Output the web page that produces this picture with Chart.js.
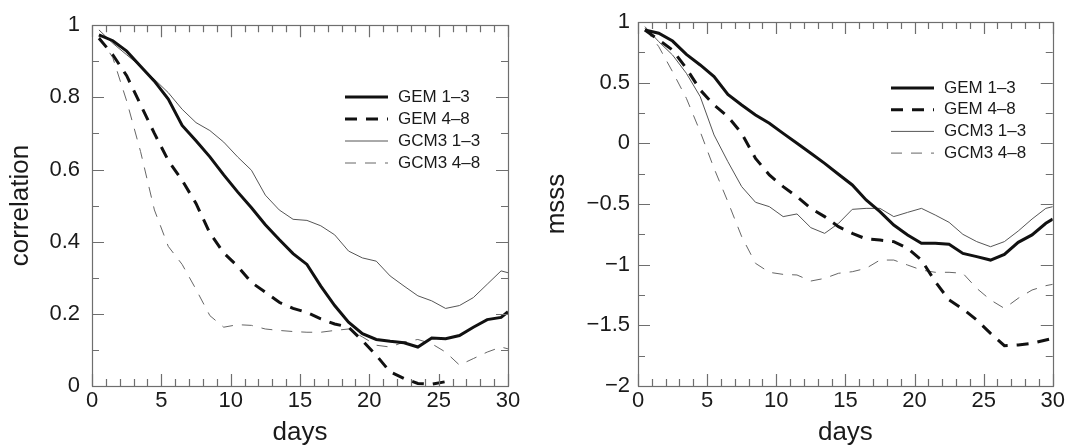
<!DOCTYPE html>
<html>
<head>
<meta charset="utf-8">
<script src="https://cdn.jsdelivr.net/npm/chart.js@4.4.0/dist/chart.umd.min.js"></script>
<style>
  body { margin: 0; background: #fff; }
  #wrap { position: relative; width: 1067px; height: 445px; }
  canvas { position: absolute; top: 0; }
  #corrChart { left: 0; }
  #msssChart { left: 533px; }
</style>
</head>
<body>
<div id="wrap">
  <canvas id="corrChart" width="533" height="445"></canvas>
  <canvas id="msssChart" width="534" height="445"></canvas>
</div>
<script>
// lead time (days) of each point
const days = [0.5, 1.5, 2.5, 3.5, 4.5, 5.5, 6.5, 7.5, 8.5, 9.5, 10.5, 11.5, 12.5, 13.5, 14.5,
  15.5, 16.5, 17.5, 18.5, 19.5, 20.5, 21.5, 22.5, 23.5, 24.5, 25.5, 26.5, 27.5, 28.5, 29.5, 30];

const seriesLabels = ["GEM 1\u20133", "GEM 4\u20138", "GCM3 1\u20133", "GCM3 4\u20138"];

// left panel: correlation
const corrGem13 = [0.973, 0.957, 0.928, 0.886, 0.845, 0.795, 0.722, 0.68, 0.635, 0.585, 0.538, 0.494, 0.447, 0.406, 0.367,
  0.337, 0.277, 0.223, 0.177, 0.145, 0.129, 0.124, 0.12, 0.108, 0.133, 0.131, 0.14, 0.163, 0.184, 0.19, 0.206];
const corrGem48 = [0.964, 0.918, 0.86, 0.78, 0.70, 0.625, 0.57, 0.506, 0.424, 0.369, 0.332, 0.287, 0.26, 0.232, 0.215,
  0.204, 0.186, 0.172, 0.163, 0.126, 0.085, 0.039, 0.021, 0.007, 0.005, 0.012, null, null, null, null, null];
const corrGcm13 = [0.987, 0.95, 0.918, 0.886, 0.85, 0.813, 0.767, 0.73, 0.708, 0.676, 0.635, 0.598, 0.529, 0.488, 0.462,
  0.459, 0.444, 0.419, 0.374, 0.355, 0.346, 0.305, 0.277, 0.25, 0.236, 0.215, 0.223, 0.245, 0.282, 0.319, 0.314];
const corrGcm48 = [0.97, 0.91, 0.79, 0.65, 0.488, 0.387, 0.337, 0.268, 0.195, 0.163, 0.17, 0.168, 0.158, 0.154, 0.151,
  0.149, 0.149, 0.154, 0.158, 0.136, 0.113, 0.108, 0.122, 0.129, 0.117, 0.094, 0.058, 0.076, 0.094, 0.108, 0.103];

// right panel: msss
const msssGem13 = [0.934, 0.907, 0.843, 0.733, 0.646, 0.55, 0.404, 0.316, 0.234, 0.165, 0.082, 0.0, -0.082, -0.165, -0.255,
  -0.343, -0.467, -0.563, -0.673, -0.755, -0.824, -0.824, -0.832, -0.907, -0.934, -0.962, -0.915, -0.816, -0.755, -0.659, -0.624];
const msssGem48 = [0.934, 0.852, 0.769, 0.618, 0.44, 0.316, 0.22, 0.082, -0.124, -0.261, -0.357, -0.44, -0.536, -0.604, -0.687,
  -0.742, -0.788, -0.797, -0.81, -0.865, -0.962, -1.14, -1.291, -1.365, -1.456, -1.566, -1.668, -1.662, -1.648, -1.621, -1.607];
const msssGcm13 = [0.962, 0.838, 0.728, 0.577, 0.385, 0.069, -0.151, -0.357, -0.486, -0.522, -0.604, -0.582, -0.695, -0.742, -0.66,
  -0.544, -0.536, -0.536, -0.604, -0.569, -0.536, -0.591, -0.651, -0.75, -0.81, -0.852, -0.81, -0.723, -0.624, -0.536, -0.522];
const msssGcm48 = [0.948, 0.797, 0.59, 0.371, 0.096, -0.206, -0.481, -0.769, -0.989, -1.063, -1.08, -1.085, -1.135, -1.113, -1.071,
  -1.058, -1.03, -0.962, -0.962, -1.003, -1.044, -1.063, -1.063, -1.071, -1.195, -1.291, -1.36, -1.277, -1.209, -1.173, -1.162];

const FONT = "'Liberation Sans', Arial, Helvetica, sans-serif";

const lineStyles = [
  { borderColor: "#111", borderWidth: 3, borderDash: [] },
  { borderColor: "#111", borderWidth: 3, borderDash: [12, 9] },
  { borderColor: "#555", borderWidth: 1, borderDash: [] },
  { borderColor: "#666", borderWidth: 1, borderDash: [11, 9] }
];

function makeDatasets(lists) {
  return lists.map((vals, i) => ({
    label: seriesLabels[i],
    data: days.map((d, j) => ({ x: d, y: vals[j] })),
    ...lineStyles[i],
    pointRadius: 0,
    tension: 0,
    fill: false
  }));
}

// frame and inward tick marks on all four sides
function frameTicks(t) {
  return {
    id: "frameTicks",
    afterDraw(chart) {
      const { ctx, chartArea: a } = chart;
      const x = chart.scales.x, y = chart.scales.y;
      const isMajor = (v, step) => Math.abs(v / step - Math.round(v / step)) < 1e-6;
      ctx.save();
      ctx.strokeStyle = "#6e6e6e";
      ctx.lineWidth = 1.2;
      ctx.strokeRect(Math.round(a.left) + 0.5, Math.round(a.top) + 0.5, Math.round(a.width), Math.round(a.height));
      const nx = Math.round((t.xMax - t.xMin) / t.xMinor);
      for (let k = 0; k <= nx; k++) {
        const v = t.xMin + k * t.xMinor;
        const px = Math.round(x.getPixelForValue(v)) + 0.5;
        const len = isMajor(v, t.xMajor) ? 12 : 7;
        ctx.beginPath();
        ctx.moveTo(px, a.bottom); ctx.lineTo(px, a.bottom - len);
        ctx.moveTo(px, a.top); ctx.lineTo(px, a.top + len);
        ctx.stroke();
      }
      const ny = Math.round((t.yMax - t.yMin) / t.yMinor);
      for (let k = 0; k <= ny; k++) {
        const v = t.yMin + k * t.yMinor;
        const py = Math.round(y.getPixelForValue(v)) + 0.5;
        const len = isMajor(v, t.yMajor) ? 12 : 7;
        ctx.beginPath();
        ctx.moveTo(a.left, py); ctx.lineTo(a.left + len, py);
        ctx.moveTo(a.right, py); ctx.lineTo(a.right - len, py);
        ctx.stroke();
      }
      ctx.restore();
    }
  };
}

// legend drawn inside the plot, like the original figure
function lineLegend(pos) {
  return {
    id: "lineLegend",
    afterDraw(chart) {
      const { ctx } = chart;
      ctx.save();
      ctx.font = "17px " + FONT;
      ctx.textBaseline = "middle";
      chart.data.datasets.forEach((ds, i) => {
        const yy = pos.top + i * pos.rowGap;
        ctx.strokeStyle = ds.borderColor;
        ctx.lineWidth = ds.borderWidth;
        ctx.setLineDash(ds.borderDash);
        ctx.beginPath();
        ctx.moveTo(pos.left, yy);
        ctx.lineTo(pos.left + 43, yy);
        ctx.stroke();
        ctx.setLineDash([]);
        ctx.fillStyle = "#1a1a1a";
        ctx.fillText(ds.label, pos.left + 53, yy);
      });
      ctx.restore();
    }
  };
}

const fmt = v => String(Math.round(v * 100) / 100).replace("-", "\u2212");

function makeChart(id, lists, cfg) {
  return new Chart(document.getElementById(id), {
    type: "line",
    data: { datasets: makeDatasets(lists) },
    plugins: [frameTicks({ xMin: 0, xMax: 30, xMinor: 1, xMajor: 5, yMin: cfg.yMin, yMax: cfg.yMax, yMinor: cfg.yMinor, yMajor: cfg.yStep }),
      lineLegend(cfg.legend)],
    options: {
      responsive: false,
      animation: false,
      events: [],
      layout: { padding: cfg.padding },
      plugins: {
        legend: { display: false },
        tooltip: { enabled: false }
      },
      scales: {
        x: {
          type: "linear",
          min: 0, max: 30,
          grid: { display: false, drawTicks: false },
          border: { display: false },
          ticks: { stepSize: 5, padding: 2, maxRotation: 0, color: "#1a1a1a", font: { family: FONT, size: 22 } },
          title: { display: true, text: "days", color: "#1a1a1a", padding: { top: 0, bottom: -3 }, font: { family: FONT, size: 26 } },
          afterFit: s => { s.height = 59; }
        },
        y: {
          min: cfg.yMin, max: cfg.yMax,
          grid: { display: false, drawTicks: false },
          border: { display: false },
          ticks: { stepSize: cfg.yStep, padding: cfg.labelPad, color: "#1a1a1a", font: { family: FONT, size: 22 }, callback: fmt },
          title: { display: true, text: cfg.yTitle, color: "#1a1a1a", padding: 0, font: { family: FONT, size: 26 } },
          afterFit: s => { s.width = cfg.yWidth; }
        }
      }
    }
  });
}

makeChart("corrChart", [corrGem13, corrGem48, corrGcm13, corrGcm48], {
  padding: { left: 5, top: 22, right: 25, bottom: 0 },
  yMin: 0, yMax: 1, yStep: 0.2, yMinor: 0.1, yTitle: "correlation", yWidth: 87, labelPad: 12,
  legend: { left: 345, top: 97, rowGap: 22 }
});

makeChart("msssChart", [msssGem13, msssGem48, msssGcm13, msssGcm48], {
  padding: { left: 8, top: 22, right: 13, bottom: 0 },
  yMin: -2, yMax: 1, yStep: 0.5, yMinor: 0.25, yTitle: "msss", yWidth: 97, labelPad: 8,
  legend: { left: 358, top: 88, rowGap: 21.7 }
});
</script>
</body>
</html>
